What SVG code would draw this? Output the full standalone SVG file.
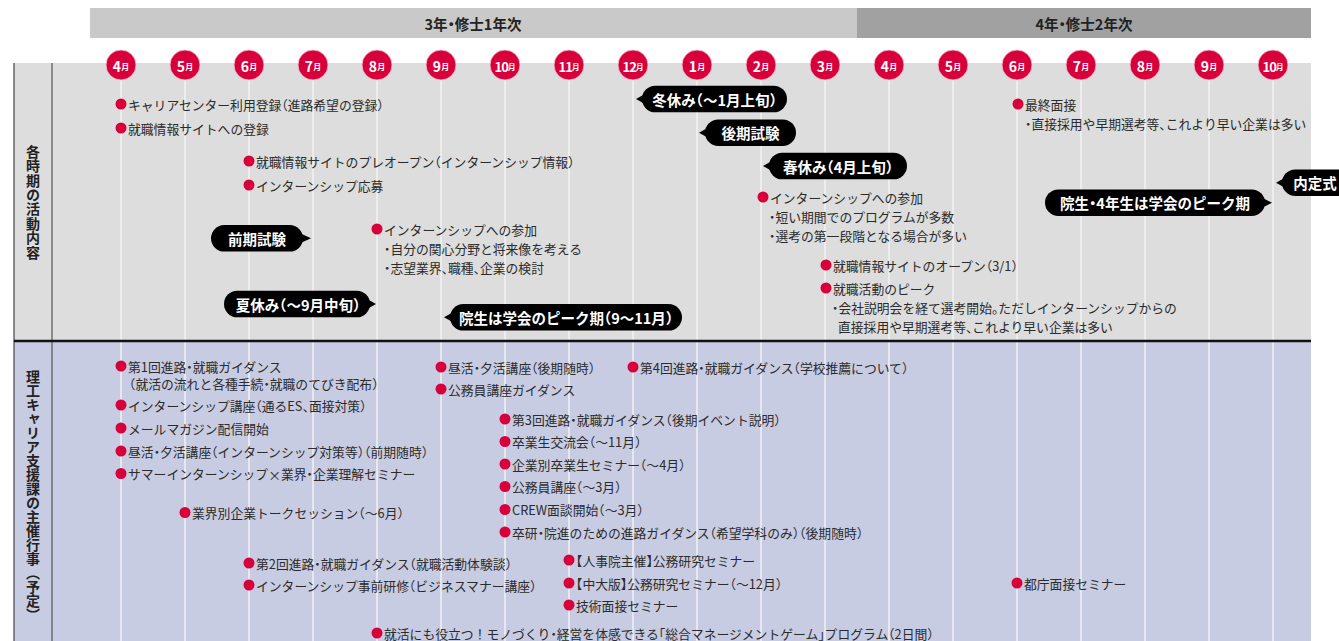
<svg xmlns="http://www.w3.org/2000/svg" width="1339" height="641" viewBox="0 0 1339 641">
<style>
text{font-family:'Noto Sans CJK JP','Noto Sans',sans-serif;}
.t{font-size:12.8px;fill:#2b2b2b;dominant-baseline:central;font-feature-settings:"halt";}
.fw{font-feature-settings:normal;}
.dot{fill:#d7003a;}
.pill{fill:#000;}
.pt{fill:#fff;font-weight:bold;font-size:14.5px;text-anchor:middle;dominant-baseline:central;font-feature-settings:"halt";}
.mc{fill:#d7003a;stroke:#f0c8d2;stroke-width:0.8;}
.mt{fill:#fff;font-weight:bold;text-anchor:middle;dominant-baseline:central;}
.grid{stroke:#f6f6f6;stroke-width:1.3;}
.hd{font-size:14.5px;font-weight:bold;fill:#222;text-anchor:middle;dominant-baseline:central;font-feature-settings:"halt";}
.vl{font-size:14px;font-weight:bold;fill:#222;writing-mode:vertical-rl;text-anchor:middle;}
</style>
<defs>
<circle id="d" r="5.5"/>
</defs>
<rect width="1339" height="641" fill="#fff"/>
<g id="backgrounds">
<rect x="14" y="63" width="1297" height="278" fill="#dcdddc"/>
<rect x="14" y="341" width="1297" height="300" fill="#c8cce2"/>
</g>
<g id="header">
<rect x="90" y="8" width="767" height="30" fill="#c8c9c8"/>
<rect x="857" y="8" width="454" height="30" fill="#a0a1a0"/>
<text class="hd" x="473" y="23">3年・修士1年次</text>
<text class="hd" x="1084" y="23">4年・修士2年次</text>
</g>
<g id="grid">
<line class="grid" x1="121" y1="65" x2="121" y2="641"/>
<line class="grid" x1="185" y1="65" x2="185" y2="641"/>
<line class="grid" x1="249" y1="65" x2="249" y2="641"/>
<line class="grid" x1="313" y1="65" x2="313" y2="641"/>
<line class="grid" x1="377" y1="65" x2="377" y2="641"/>
<line class="grid" x1="441" y1="65" x2="441" y2="641"/>
<line class="grid" x1="505" y1="65" x2="505" y2="641"/>
<line class="grid" x1="569" y1="65" x2="569" y2="641"/>
<line class="grid" x1="633" y1="65" x2="633" y2="641"/>
<line class="grid" x1="697" y1="65" x2="697" y2="641"/>
<line class="grid" x1="761" y1="65" x2="761" y2="641"/>
<line class="grid" x1="825" y1="65" x2="825" y2="641"/>
<line class="grid" x1="889" y1="65" x2="889" y2="641"/>
<line class="grid" x1="953" y1="65" x2="953" y2="641"/>
<line class="grid" x1="1017" y1="65" x2="1017" y2="641"/>
<line class="grid" x1="1081" y1="65" x2="1081" y2="641"/>
<line class="grid" x1="1145" y1="65" x2="1145" y2="641"/>
<line class="grid" x1="1209" y1="65" x2="1209" y2="641"/>
<line class="grid" x1="1273" y1="65" x2="1273" y2="641"/>
</g>
<g id="frame">
<line x1="14" y1="63" x2="14" y2="641" stroke="#444" stroke-width="1.2"/>
<line x1="52" y1="63" x2="52" y2="641" stroke="#555" stroke-width="1.2"/>
<line x1="14" y1="341" x2="1311" y2="341" stroke="#111" stroke-width="2.4"/>
<text class="vl" x="33" y="202" letter-spacing="0.4">各時期の活動内容</text>
<text class="vl" x="33" y="496" font-size="13.8">理工キャリア支援課の主催行事（予定）</text>
</g>
<g id="months">
<g><circle class="mc" cx="121" cy="65" r="15"/><text class="mt" x="121" y="65.5"><tspan font-size="14">4</tspan><tspan font-size="8">月</tspan></text></g>
<g><circle class="mc" cx="185" cy="65" r="15"/><text class="mt" x="185" y="65.5"><tspan font-size="14">5</tspan><tspan font-size="8">月</tspan></text></g>
<g><circle class="mc" cx="249" cy="65" r="15"/><text class="mt" x="249" y="65.5"><tspan font-size="14">6</tspan><tspan font-size="8">月</tspan></text></g>
<g><circle class="mc" cx="313" cy="65" r="15"/><text class="mt" x="313" y="65.5"><tspan font-size="14">7</tspan><tspan font-size="8">月</tspan></text></g>
<g><circle class="mc" cx="377" cy="65" r="15"/><text class="mt" x="377" y="65.5"><tspan font-size="14">8</tspan><tspan font-size="8">月</tspan></text></g>
<g><circle class="mc" cx="441" cy="65" r="15"/><text class="mt" x="441" y="65.5"><tspan font-size="14">9</tspan><tspan font-size="8">月</tspan></text></g>
<g><circle class="mc" cx="505" cy="65" r="15"/><text class="mt" x="505" y="65.5"><tspan font-size="13" letter-spacing="-1">10</tspan><tspan font-size="7.5">月</tspan></text></g>
<g><circle class="mc" cx="569" cy="65" r="15"/><text class="mt" x="569" y="65.5"><tspan font-size="13" letter-spacing="-1">11</tspan><tspan font-size="7.5">月</tspan></text></g>
<g><circle class="mc" cx="633" cy="65" r="15"/><text class="mt" x="633" y="65.5"><tspan font-size="13" letter-spacing="-1">12</tspan><tspan font-size="7.5">月</tspan></text></g>
<g><circle class="mc" cx="697" cy="65" r="15"/><text class="mt" x="697" y="65.5"><tspan font-size="14">1</tspan><tspan font-size="8">月</tspan></text></g>
<g><circle class="mc" cx="761" cy="65" r="15"/><text class="mt" x="761" y="65.5"><tspan font-size="14">2</tspan><tspan font-size="8">月</tspan></text></g>
<g><circle class="mc" cx="825" cy="65" r="15"/><text class="mt" x="825" y="65.5"><tspan font-size="14">3</tspan><tspan font-size="8">月</tspan></text></g>
<g><circle class="mc" cx="889" cy="65" r="15"/><text class="mt" x="889" y="65.5"><tspan font-size="14">4</tspan><tspan font-size="8">月</tspan></text></g>
<g><circle class="mc" cx="953" cy="65" r="15"/><text class="mt" x="953" y="65.5"><tspan font-size="14">5</tspan><tspan font-size="8">月</tspan></text></g>
<g><circle class="mc" cx="1017" cy="65" r="15"/><text class="mt" x="1017" y="65.5"><tspan font-size="14">6</tspan><tspan font-size="8">月</tspan></text></g>
<g><circle class="mc" cx="1081" cy="65" r="15"/><text class="mt" x="1081" y="65.5"><tspan font-size="14">7</tspan><tspan font-size="8">月</tspan></text></g>
<g><circle class="mc" cx="1145" cy="65" r="15"/><text class="mt" x="1145" y="65.5"><tspan font-size="14">8</tspan><tspan font-size="8">月</tspan></text></g>
<g><circle class="mc" cx="1209" cy="65" r="15"/><text class="mt" x="1209" y="65.5"><tspan font-size="14">9</tspan><tspan font-size="8">月</tspan></text></g>
<g><circle class="mc" cx="1273" cy="65" r="15"/><text class="mt" x="1273" y="65.5"><tspan font-size="13" letter-spacing="-1">10</tspan><tspan font-size="7.5">月</tspan></text></g>
</g>
<g id="pills">
<g id="p-winter"><rect class="pill" x="642" y="85.7" width="145" height="26.6" rx="13.3"/><polygon class="pill" points="645,94 636,99 645,104"/><text class="pt" x="714.5" y="99">冬休み（〜1月上旬）</text></g>
<g id="p-late-exam"><rect class="pill" x="705" y="119.4" width="91" height="26.6" rx="13.3"/><polygon class="pill" points="708,127.7 699,132.7 708,137.7"/><text class="pt" x="750.5" y="132.7">後期試験</text></g>
<g id="p-spring"><rect class="pill" x="769" y="152.7" width="138" height="26.6" rx="13.3"/><polygon class="pill" points="772,161 763,166 772,171"/><text class="pt" x="838" y="166">春休み（4月上旬）</text></g>
<g id="p-early-exam"><rect class="pill" x="211" y="225" width="92" height="26.6" rx="13.3"/><polygon class="pill" points="300,233.3 311,238.3 300,243.3"/><text class="pt" x="257" y="238.3">前期試験</text></g>
<g id="p-summer"><rect class="pill" x="224" y="290.7" width="146" height="26.6" rx="13.3"/><polygon class="pill" points="367,299 376,304 367,309"/><text class="pt" x="298" y="304">夏休み（〜9月中旬）</text></g>
<g id="p-conf1"><rect class="pill" x="450" y="304" width="232" height="26.6" rx="13.3"/><polygon class="pill" points="453,312.3 444,317.3 453,322.3"/><text class="pt" x="566" y="317.3">院生は学会のピーク期（9〜11月）</text></g>
<g id="p-conf2"><rect class="pill" x="1045" y="189.4" width="220" height="26.6" rx="13.3"/><polygon class="pill" points="1262,197.7 1272,202.7 1262,207.7"/><text class="pt" x="1155" y="202.7">院生・4年生は学会のピーク期</text></g>
<g id="p-naitei"><rect class="pill" x="1282" y="169.4" width="80" height="26.6" rx="13.3"/><polygon class="pill" points="1285,177.7 1276,182.7 1285,187.7"/><text class="pt" x="1315" y="182.7">内定式</text></g>
</g>
<g id="activities">
<g id="a1"><use href="#d" class="dot" x="121" y="104"/><text class="t" x="128" y="104">キャリアセンター利用登録（進路希望の登録）</text></g>
<g id="a2"><use href="#d" class="dot" x="121" y="128"/><text class="t" x="128" y="128">就職情報サイトへの登録</text></g>
<g id="a3"><use href="#d" class="dot" x="249" y="161"/><text class="t" x="256" y="161">就職情報サイトのプレオープン（インターンシップ情報）</text></g>
<g id="a4"><use href="#d" class="dot" x="249" y="185"/><text class="t" x="256" y="185">インターンシップ応募</text></g>
<g id="a5"><use href="#d" class="dot" x="377" y="229"/><text class="t" x="384" y="229">インターンシップへの参加</text><text class="t" x="384" y="248">・自分の関心分野と将来像を考える</text><text class="t" x="384" y="267">・志望業界、職種、企業の検討</text></g>
<g id="a6"><use href="#d" class="dot" x="763" y="197"/><text class="t" x="770" y="197">インターンシップへの参加</text><text class="t" x="769" y="216.5">・短い期間でのプログラムが多数</text><text class="t" x="769" y="235.5">・選考の第一段階となる場合が多い</text></g>
<g id="a7"><use href="#d" class="dot" x="826" y="265"/><text class="t" x="833" y="265">就職情報サイトのオープン（3/1）</text></g>
<g id="a8"><use href="#d" class="dot" x="826" y="288"/><text class="t" x="833" y="288">就職活動のピーク</text><text class="t" x="832" y="307">・会社説明会を経て選考開始。ただしインターンシップからの</text><text class="t" x="838" y="326">直接採用や早期選考等、これより早い企業は多い</text></g>
<g id="a9"><use href="#d" class="dot" x="1018" y="104"/><text class="t" x="1025" y="104">最終面接</text><text class="t" x="1025" y="123">・直接採用や早期選考等、これより早い企業は多い</text></g>
</g>
<g id="events">
<g id="e1"><use href="#d" class="dot" x="121" y="366"/><text class="t" x="128" y="366">第1回進路・就職ガイダンス</text><text class="t" x="129" y="383.5">（就活の流れと各種手続・就職のてびき配布）</text></g>
<g id="e2"><use href="#d" class="dot" x="121" y="405"/><text class="t" x="128" y="405">インターンシップ講座（通るES、面接対策）</text></g>
<g id="e3"><use href="#d" class="dot" x="121" y="428"/><text class="t" x="128" y="428">メールマガジン配信開始</text></g>
<g id="e4"><use href="#d" class="dot" x="121" y="451"/><text class="t" x="128" y="451">昼活・夕活講座（インターンシップ対策等）（前期随時）</text></g>
<g id="e5"><use href="#d" class="dot" x="121" y="473.5"/><text class="t" x="128" y="473.5">サマーインターンシップ<tspan class="fw">×</tspan>業界・企業理解セミナー</text></g>
<g id="e6"><use href="#d" class="dot" x="185" y="512.5"/><text class="t" x="192" y="512.5">業界別企業トークセッション（〜6月）</text></g>
<g id="e7"><use href="#d" class="dot" x="249" y="563"/><text class="t" x="256" y="563">第2回進路・就職ガイダンス（就職活動体験談）</text></g>
<g id="e8"><use href="#d" class="dot" x="249" y="585"/><text class="t" x="256" y="585">インターンシップ事前研修（ビジネスマナー講座）</text></g>
<g id="e9"><use href="#d" class="dot" x="377" y="633"/><text class="t" x="384" y="633">就活にも役立つ<tspan class="fw">！</tspan>モノづくり・経営を体感できる「総合マネージメントゲーム」プログラム（2日間）</text></g>
<g id="e10"><use href="#d" class="dot" x="441" y="367"/><text class="t" x="448" y="367">昼活・夕活講座（後期随時）</text></g>
<g id="e11"><use href="#d" class="dot" x="441" y="389"/><text class="t" x="448" y="389">公務員講座ガイダンス</text></g>
<g id="e12"><use href="#d" class="dot" x="633" y="367"/><text class="t" x="640" y="367">第4回進路・就職ガイダンス（学校推薦について）</text></g>
<g id="e13"><use href="#d" class="dot" x="505" y="419"/><text class="t" x="512" y="419">第3回進路・就職ガイダンス（後期イベント説明）</text></g>
<g id="e14"><use href="#d" class="dot" x="505" y="441.5"/><text class="t" x="512" y="441.5">卒業生交流会（〜11月）</text></g>
<g id="e15"><use href="#d" class="dot" x="505" y="464"/><text class="t" x="512" y="464">企業別卒業生セミナー（〜4月）</text></g>
<g id="e16"><use href="#d" class="dot" x="505" y="486.5"/><text class="t" x="512" y="486.5">公務員講座（〜3月）</text></g>
<g id="e17"><use href="#d" class="dot" x="505" y="509.5"/><text class="t" x="512" y="509.5">CREW面談開始（〜3月）</text></g>
<g id="e18"><use href="#d" class="dot" x="505" y="532"/><text class="t" x="512" y="532">卒研・院進のための進路ガイダンス（希望学科のみ）（後期随時）</text></g>
<g id="e19"><use href="#d" class="dot" x="569" y="560"/><text class="t" x="576" y="560">【人事院主催】公務研究セミナー</text></g>
<g id="e20"><use href="#d" class="dot" x="569" y="583"/><text class="t" x="576" y="583">【中大版】公務研究セミナー（〜12月）</text></g>
<g id="e21"><use href="#d" class="dot" x="569" y="605"/><text class="t" x="576" y="605">技術面接セミナー</text></g>
<g id="e22"><use href="#d" class="dot" x="1017" y="583"/><text class="t" x="1024" y="583">都庁面接セミナー</text></g>
</g>
</svg>
